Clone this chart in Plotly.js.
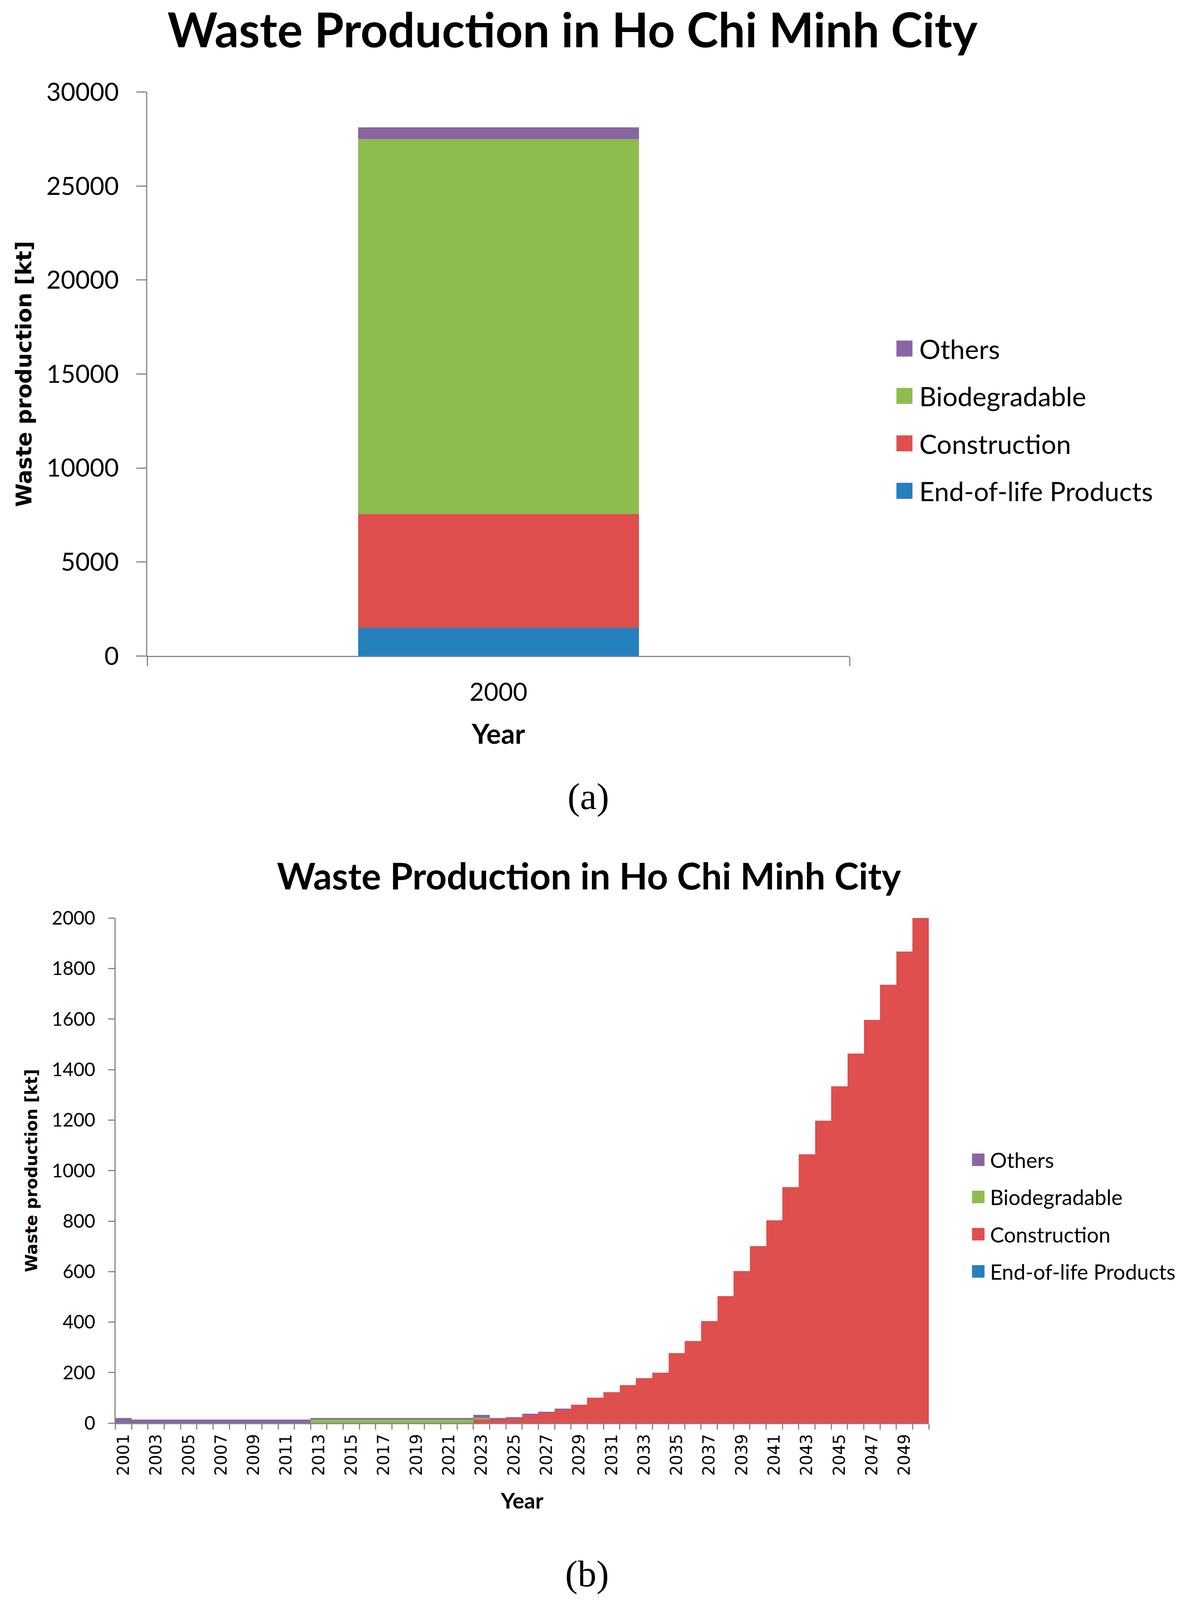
<!DOCTYPE html>
<html>
<head>
<meta charset="utf-8">
<script src="https://cdn.plot.ly/plotly-3.0.1.min.js"></script>
<style>
html,body{margin:0;padding:0;background:#fff;overflow:hidden;}
#chart{width:3016px;}
</style>
</head>
<body>
<div id="chart"></div>
<script>
// ---------- Data: panel (a) ----------
var yearsA = ['2000'];
var eolA = [1500];
var constructionA = [6050];
var biodegradableA = [19950];
var othersA = [610];

// ---------- Data: panel (b) ----------
var yearsB = ['2001','2002','2003','2004','2005','2006','2007','2008','2009','2010',
              '2011','2012','2013','2014','2015','2016','2017','2018','2019','2020',
              '2021','2022','2023','2024','2025','2026','2027','2028','2029','2030',
              '2031','2032','2033','2034','2035','2036','2037','2038','2039','2040',
              '2041','2042','2043','2044','2045','2046','2047','2048','2049','2050'];
var eolB = [0,0,0,0,0,0,0,0,0,0, 0,0,0,0,0,0,0,0,0,0, 0,0,0,0,0,0,0,0,0,0,
            0,0,0,0,0,0,0,0,0,0, 0,0,0,0,0,0,0,0,0,0];
var constructionB = [0,0,0,0,0,0,0,0,0,0, 0,0,0,0,0,0,0,0,0,0, 0,0,14,14,19,31,40,52,73,101,
                     123,150,178,200,277,326,404,503,602,701, 803,935,1064,1197,1333,1464,1597,1735,1867,2000];
var biodegradableB = [0,0,0,0,0,0,0,0,0,0, 0,0,14,14,14,14,14,14,14,14, 14,14,6,0,0,0,0,0,0,0,
                      0,0,0,0,0,0,0,0,0,0, 0,0,0,0,0,0,0,0,0,0];
var othersB = [20,14,14,14,14,14,14,14,14,14, 14,14,6,6,6,6,6,6,6,6, 6,6,13,6,5,6,6,5,0,0,
               0,0,0,0,0,0,0,0,0,0, 0,0,0,0,0,0,0,0,0,0];
// tick labels for panel (b): every other year
var tickTextB = ['2001','','2003','','2005','','2007','','2009','',
                 '2011','','2013','','2015','','2017','','2019','',
                 '2021','','2023','','2025','','2027','','2029','',
                 '2031','','2033','','2035','','2037','','2039','',
                 '2041','','2043','','2045','','2047','','2049',''];

var seriesNames = ['End-of-life Products','Construction','Biodegradable','Others'];
var legendRanks = [4,3,2,1];
var colors = ['#2580BE','#DE4F4E','#8EBC4F','#8966A3'];

// ---------- helpers ----------
var W = 3016, REF_H = 4488;
var H = Math.min(REF_H, window.innerHeight || REF_H);   // fit the visible window
var k = H / REF_H;                                       // vertical fit factor
document.getElementById('chart').style.height = H + 'px';
function px(x){ return x / W; }
function py(y){ return 1 - y / REF_H; }
function v(n){ return Math.round(n * k); }

var axisColor = '#868686';
var sans = 'Lato, "Open Sans", sans-serif';
var verd = '"DejaVu Sans", Verdana, sans-serif';

var seriesA = [eolA, constructionA, biodegradableA, othersA];
var seriesB = [eolB, constructionB, biodegradableB, othersB];

var traces = [];
seriesA.forEach(function(vals, i){
  traces.push({
    type:'bar', x: yearsA, y: vals, name: seriesNames[i],
    xaxis:'x', yaxis:'y', legend:'legend', legendgroup:'a'+i, legendrank: legendRanks[i],
    width: 0.4,
    marker:{color: colors[i], line:{width:0}}
  });
});
seriesB.forEach(function(vals, i){
  traces.push({
    type:'bar', x: yearsB, y: vals, name: seriesNames[i],
    xaxis:'x2', yaxis:'y2', legend:'legend2', legendgroup:'b'+i, legendrank: legendRanks[i],
    width: 1,
    marker:{color: colors[i], line:{width:0}}
  });
});

var layout = {
  width: W, height: H,
  margin:{l:0,r:0,t:0,b:0,pad:0},
  paper_bgcolor:'#fff', plot_bgcolor:'#fff',
  barmode:'stack',
  showlegend:true,
  title:{
    text:'Waste Production in Ho Chi Minh City',
    font:{family:sans, size:122, weight:700, color:'#000'},
    x: px(1473), xanchor:'center', xref:'paper',
    y: py(86), yanchor:'middle', yref:'paper'
  },
  xaxis:{
    domain:[px(379), px(2186)], anchor:'y',
    type:'category', range:[-0.5,0.5], tickson:'boundaries',
    showline:true, linecolor:axisColor, linewidth:3,
    ticks:'outside', ticklen:v(25), tickwidth:3, tickcolor:axisColor,
    ticklabelstandoff: v(38),
    tickfont:{family:sans, size:64, color:'#000'},
    showgrid:false, zeroline:false,
    title:{text:'Year', font:{family:sans, size:70, weight:700, color:'#000'}, standoff:v(61) - 8}
  },
  yaxis:{
    domain:[py(1840), py(258)], anchor:'x',
    range:[0,30000], dtick:5000, tickformat:'d',
    showline:true, linecolor:axisColor, linewidth:3,
    ticks:'outside', ticklen:25, tickwidth:3, tickcolor:axisColor,
    ticklabelstandoff: 32,
    tickfont:{family:sans, size:64, color:'#000'},
    showgrid:false, zeroline:false,
    title:{text:'Waste production [kt]', font:{family:verd, size:55, weight:700, color:'#000'}, standoff:21}
  },
  xaxis2:{
    domain:[px(297), px(2390)], anchor:'y2',
    type:'category', range:[-0.5,49.5], tickson:'boundaries',
    tickmode:'array', tickvals: yearsB, ticktext: tickTextB,
    tickangle:-90,
    showline:true, linecolor:axisColor, linewidth:3,
    ticks:'outside', ticklen:v(15), tickwidth:3, tickcolor:axisColor,
    ticklabelstandoff: 8,
    tickfont:{family:verd, size:42, color:'#000'},
    showgrid:false, zeroline:false,
    title:{text:'Year', font:{family:sans, size:56, weight:700, color:'#000'}, standoff:v(50)}
  },
  yaxis2:{
    domain:[py(3992), py(2575)], anchor:'x2',
    range:[0,2000], dtick:200, tickformat:'d',
    showline:true, linecolor:axisColor, linewidth:3,
    ticks:'outside', ticklen:16, tickwidth:3, tickcolor:axisColor,
    ticklabelstandoff: 23,
    tickfont:{family:sans, size:48, color:'#000'},
    showgrid:false, zeroline:false,
    title:{text:'Waste production [kt]', font:{family:verd, size:42, weight:700, color:'#000'}, standoff:24}
  },
  legend:{
    x: px(2289), xanchor:'left', y: 1 - (979 * k - 52) / H, yanchor:'top',
    traceorder:'grouped', tracegroupgap: Math.max(0, Math.round(134 * k - 92)), itemwidth:66,
    font:{family:sans, size:68, color:'#000'},
    bgcolor:'rgba(0,0,0,0)', borderwidth:0
  },
  legend2:{
    x: px(2487), xanchor:'left', y: 1 - (3257 * k - 45) / H, yanchor:'top',
    traceorder:'grouped', tracegroupgap: Math.max(0, Math.round(103 * k - 72)), itemwidth:50,
    font:{family:sans, size:54, color:'#000'},
    bgcolor:'rgba(0,0,0,0)', borderwidth:0
  },
  annotations:[
    {text:'Waste Production in Ho Chi Minh City', xref:'paper', yref:'paper',
     x: px(1516), y: py(2455), xanchor:'center', yanchor:'middle', showarrow:false,
     font:{family:sans, size:94, weight:700, color:'#000'}},
    {text:'(a)', xref:'paper', yref:'paper', x: px(1514), y: py(2234),
     xanchor:'center', yanchor:'middle', showarrow:false,
     font:{family:'"Liberation Serif", "DejaVu Serif", serif', size:96, color:'#000'}},
    {text:'(b)', xref:'paper', yref:'paper', x: px(1511), y: py(4414),
     xanchor:'center', yanchor:'middle', showarrow:false,
     font:{family:'"Liberation Serif", "DejaVu Serif", serif', size:96, color:'#000'}}
  ]
};

// enlarge the small fixed-size legend swatches to the reference's square size
function enlargeLegendSymbols(){
  document.querySelectorAll('g.legend g.legendpoints path').forEach(function(p){
    p.setAttribute('d','M20.5,20.5H-20.5V-20.5H20.5Z');
  });
  document.querySelectorAll('g.legend2 g.legendpoints path').forEach(function(p){
    p.setAttribute('d','M16,16H-16V-16H16Z');
  });
}

Plotly.newPlot('chart', traces, layout, {staticPlot:true, displayModeBar:false}).then(function(gd){
  enlargeLegendSymbols();
  gd.on('plotly_afterplot', enlargeLegendSymbols);
  setTimeout(enlargeLegendSymbols, 300);
  setTimeout(enlargeLegendSymbols, 1000);
});
</script>
</body>
</html>
